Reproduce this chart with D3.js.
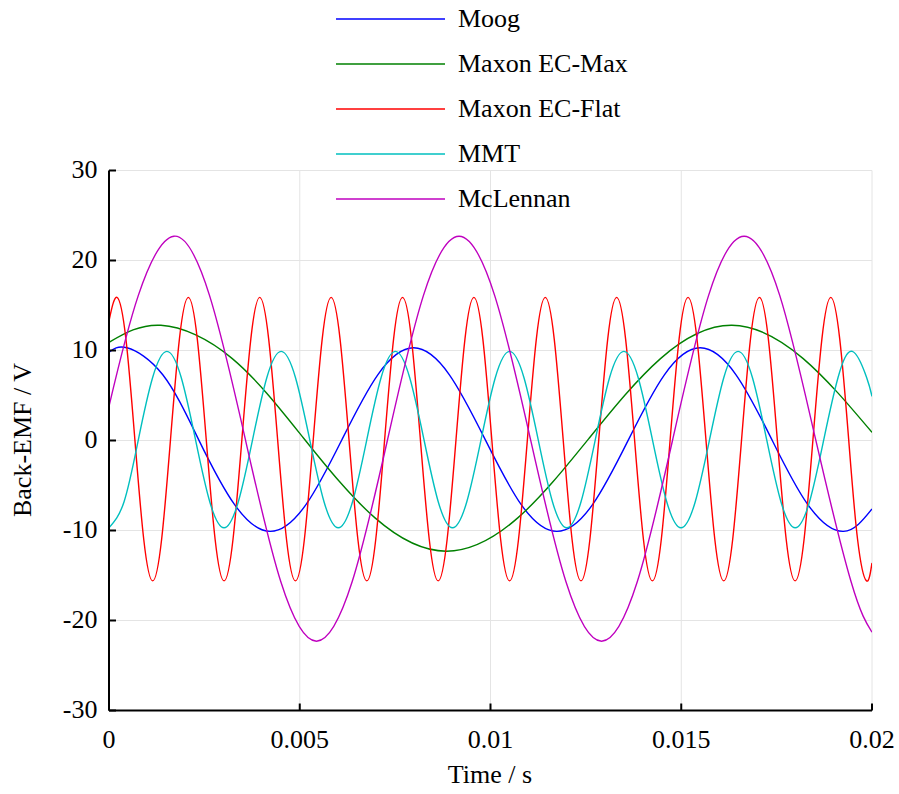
<!DOCTYPE html>
<html><head><meta charset="utf-8">
<script src="https://cdn.jsdelivr.net/npm/d3@7"></script>
<style>html,body{margin:0;padding:0;background:#fff;} svg{display:block;font-family:"Liberation Serif","Times New Roman",serif;}</style>
</head><body><svg id="chart" width="899" height="794"></svg>
<script>
// ---- data (times in microseconds, values in volts) ----
const seriesNames = ["Moog", "Maxon EC-Max", "Maxon EC-Flat", "MMT", "McLennan"];
const seriesColors = ["#0000ff", "#008000", "#ff0000", "#00bfbf", "#bf00bf"];

const tMoog = [0, 471,1410,2349,3288,4227,5167,6106,7045, 7984,8923,9862,10801,11740,12679,13618,14558, 15497,16436,17375,18314,19253, 20000];
const vMoog = [9.8, 10.3,7.3,0.1,-7.1,-10.1,-7.1,0.1,7.3, 10.3,7.3,0.1,-7.1,-10.1,-7.1,0.1,7.3, 10.3,7.3,0.1,-7.1,-10.1, -7.6];

const tEcMax = [0, 1361,3232,5103,6973,8844,10715,12585,14456,16327,18197, 20000];
const vEcMax = [10.9, 12.8,9.1,0.25,-8.6,-12.3,-8.6,0.25,9.1,12.8,9.1, 0.9];

const tEcFlat = [0, 209,443,677,911,1145,1379,1613,1846, 2080,2314,2548,2782,3016,3250,3484,3718,
  3951,4185,4419,4653,4887,5121,5355,5589, 5823,6056,6290,6524,6758,6992,7226,7460,
  7694,7928,8161,8395,8629,8863,9097,9331, 9565,9799,10033,10266,10500,10734,10968,11202,
  11436,11670,11904,12138,12372,12605,12839,13073, 13307,13541,13775,14009,14243,14477,14710,14944,
  15178,15412,15646,15880,16114,16348,16582,16815, 17049,17283,17517,17751,17985,18219,18453,18687,
  18920,19154,19388,19622,19856, 20000];
const vEcFlat = [13.3,
  15.9,11.3,0.15,-11.0,-15.6,-11.0,0.15,11.3, 15.9,11.3,0.15,-11.0,-15.6,-11.0,0.15,11.3,
  15.9,11.3,0.15,-11.0,-15.6,-11.0,0.15,11.3, 15.9,11.3,0.15,-11.0,-15.6,-11.0,0.15,11.3,
  15.9,11.3,0.15,-11.0,-15.6,-11.0,0.15,11.3, 15.9,11.3,0.15,-11.0,-15.6,-11.0,0.15,11.3,
  15.9,11.3,0.15,-11.0,-15.6,-11.0,0.15,11.3, 15.9,11.3,0.15,-11.0,-15.6,-11.0,0.15,11.3,
  15.9,11.3,0.15,-11.0,-15.6,-11.0,0.15,11.3, 15.9,11.3,0.15,-11.0,-15.6,-11.0,0.15,11.3,
  15.9,11.3,0.15,-11.0,-15.6, -13.6];

const tMMT = [0, 395,770,1144,1518,1893,2267,2641, 3015,3390,3764,4138,4513,4887,5261,5636,
  6010,6384,6758,7133,7507,7881,8256,8630, 9004,9379,9753,10127,10501,10876,11250,11624,
  11999,12373,12747,13122,13496,13870,14244,14619, 14993,15367,15742,16116,16490,16865,17239,17613,
  17987,18362,18736,19110,19485,19859, 20000];
const vMMT = [-9.7,-6.8,0.1,7.0,9.9,7.0,0.1,-6.8, -9.7,-6.8,0.1,7.0,9.9,7.0,0.1,-6.8,
  -9.7,-6.8,0.1,7.0,9.9,7.0,0.1,-6.8, -9.7,-6.8,0.1,7.0,9.9,7.0,0.1,-6.8,
  -9.7,-6.8,0.1,7.0,9.9,7.0,0.1,-6.8, -9.7,-6.8,0.1,7.0,9.9,7.0,0.1,-6.8,
  -9.7,-6.8,0.1,7.0,9.9,7.0, 4.9];

const tMcLennan = [0, 767, 1702,2636,3570,4504,5439,6373,7307,8241, 9175,10110,11044,11978,12912,13847,14781,15715,
  16649,17583,18518,19452, 20000];
const vMcLennan = [3.8, 16.1, 22.7,16.1,0.2,-15.7,-22.3,-15.7,0.2,16.1, 22.7,16.1,0.2,-15.7,-22.3,-15.7,0.2,16.1,
  22.7,16.1,0.2,-15.7, -21.3];

const xTicks = [0, 0.005, 0.01, 0.015, 0.02];
const xTickLabels = ["0", "0.005", "0.01", "0.015", "0.02"];
const yTicks = [-30, -20, -10, 0, 10, 20, 30];
const yTickLabels = ["-30", "-20", "-10", "0", "10", "20", "30"];
const xTitle = "Time / s";
const yTitle = "Back-EMF / V";

// ---- build ----
const seriesT = [tMoog, tEcMax, tEcFlat, tMMT, tMcLennan];
const seriesV = [vMoog, vEcMax, vEcFlat, vMMT, vMcLennan];
const series = seriesNames.map((name, i) => ({
  name, color: seriesColors[i],
  pts: seriesT[i].map((t, j) => ({t: t / 1e6, v: seriesV[i][j]}))
}));

const svg = d3.select("#chart");
const FS = 26;
const x = d3.scaleLinear().domain([0, 0.02]).range([109, 872]);
const y = d3.scaleLinear().domain([-30, 30]).range([710.5, 170.5]);

// grid
const grid = svg.append("g").attr("stroke", "#e4e4e4").attr("stroke-width", 1);
grid.selectAll("line.gx").data(xTicks).join("line")
  .attr("x1", d => x(d)).attr("x2", d => x(d)).attr("y1", y(-30)).attr("y2", y(30));
grid.selectAll("line.gy").data(yTicks).join("line")
  .attr("y1", d => y(d)).attr("y2", d => y(d)).attr("x1", x(0)).attr("x2", x(0.02));

// clip
svg.append("clipPath").attr("id", "clip").append("rect")
  .attr("x", x(0)).attr("y", y(30) - 2).attr("width", x(0.02) - x(0)).attr("height", y(-30) - y(30) + 4);

const line = d3.line().x(d => x(d.t)).y(d => y(d.v)).curve(d3.curveNatural);
svg.append("g").attr("clip-path", "url(#clip)")
  .selectAll("path").data(series).join("path")
  .attr("d", d => line(d.pts)).attr("fill", "none")
  .attr("stroke", d => d.color).attr("stroke-width", 1.4);

// axes
const yAxis = d3.axisLeft(y).tickValues(yTicks).tickFormat((d, i) => yTickLabels[i])
  .tickSizeInner(-7).tickSizeOuter(0).tickPadding(11.5).offset(0);
const gy = svg.append("g").attr("transform", `translate(${x(0)},0)`).call(yAxis);
const xAxis = d3.axisBottom(x).tickValues(xTicks).tickFormat((d, i) => xTickLabels[i])
  .tickSizeInner(-7).tickSizeOuter(0).tickPadding(12).offset(0);
const gx = svg.append("g").attr("transform", `translate(0,${y(-30)})`).call(xAxis);
[gx, gy].forEach(g => {
  g.select(".domain").attr("stroke", "#000").attr("stroke-width", 2);
  g.selectAll(".tick line").attr("stroke", "#000").attr("stroke-width", 2);
  g.selectAll(".tick text").attr("fill", "#000").attr("font-size", FS)
    .attr("font-family", "Liberation Serif, Times New Roman, serif");
});
gy.selectAll(".tick text").attr("dy", "0.28em");
gx.selectAll(".tick text").attr("y", 37).attr("dy", 0);

// titles
svg.append("text").attr("x", 490).attr("y", 783).attr("text-anchor", "middle")
  .attr("font-size", FS).text(xTitle);
svg.append("text").attr("transform", "translate(31,440) rotate(-90)").attr("text-anchor", "middle")
  .attr("font-size", FS).text(yTitle);

// legend
const lg = svg.append("g").selectAll("g").data(series).join("g")
  .attr("transform", (d, i) => `translate(0,${19 + 45 * i})`);
lg.append("line").attr("x1", 336).attr("x2", 445).attr("y1", 0).attr("y2", 0)
  .attr("stroke", d => d.color).attr("stroke-width", 1.4);
lg.append("text").attr("x", 458).attr("y", 0).attr("dy", "0.3em")
  .attr("font-size", FS).text(d => d.name);
</script></body></html>
